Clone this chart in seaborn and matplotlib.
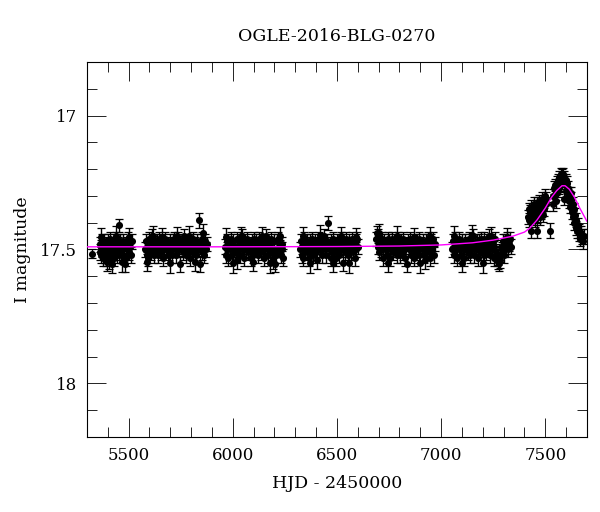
"""OGLE-2016-BLG-0270 light curve with the point-lens model overlaid."""

import matplotlib
matplotlib.use("Agg")
import matplotlib.pyplot as plt          # noqa: E402
import pandas as pd                      # noqa: E402
import seaborn as sns                    # noqa: E402
from matplotlib.ticker import MultipleLocator  # noqa: E402

# (HJD - 2450000, I mag, error), season by season
season0 = [(5322, 17.515, .016)]

season1 = [
    (5362, 17.48, .028), (5364, 17.51, .030), (5366, 17.49, .027), (5369, 17.52, .031), (5371, 17.47, .026),
    (5373, 17.50, .029), (5376, 17.50, .028), (5378, 17.53, .033), (5380, 17.49, .027), (5383, 17.47, .026),
    (5385, 17.52, .030), (5388, 17.50, .028), (5390, 17.48, .027), (5392, 17.53, .032), (5395, 17.49, .028),
    (5397, 17.51, .029), (5400, 17.47, .026), (5402, 17.50, .029), (5405, 17.49, .028), (5407, 17.54, .034),
    (5410, 17.50, .028), (5412, 17.46, .026), (5415, 17.52, .030), (5417, 17.49, .028), (5420, 17.48, .027),
    (5423, 17.51, .029), (5425, 17.50, .028), (5428, 17.47, .026), (5431, 17.53, .032), (5433, 17.49, .027),
    (5436, 17.50, .029), (5439, 17.46, .025), (5441, 17.50, .028), (5444, 17.52, .031), (5447, 17.48, .027),
    (5450, 17.49, .028), (5453, 17.51, .029), (5456, 17.41, .025), (5459, 17.47, .027), (5462, 17.50, .028),
    (5465, 17.52, .030), (5468, 17.49, .027), (5471, 17.47, .026), (5474, 17.52, .030), (5477, 17.49, .028),
    (5481, 17.555, .030), (5485, 17.48, .027), (5489, 17.53, .032), (5493, 17.50, .028), (5497, 17.46, .026),
    (5502, 17.51, .029), (5507, 17.49, .027), (5511, 17.52, .031), (5515, 17.47, .027),
    (5368, 17.455, .035), (5394, 17.545, .036), (5419, 17.555, .034), (5438, 17.45, .036),
    (5466, 17.545, .038), (5500, 17.455, .034),
]

season2 = [
    (5578, 17.50, .028), (5582, 17.47, .027), (5586, 17.52, .030), (5590, 17.49, .027), (5594, 17.53, .032),
    (5597, 17.46, .026), (5601, 17.50, .028), (5605, 17.48, .027), (5609, 17.51, .029), (5612, 17.45, .025),
    (5616, 17.49, .028), (5620, 17.52, .031), (5624, 17.47, .027), (5628, 17.50, .029), (5631, 17.49, .027),
    (5635, 17.47, .026), (5639, 17.52, .030), (5643, 17.50, .028), (5647, 17.46, .026), (5651, 17.48, .027),
    (5655, 17.51, .029), (5659, 17.49, .028), (5663, 17.53, .033), (5667, 17.47, .027), (5671, 17.50, .028),
    (5675, 17.46, .026), (5679, 17.50, .029), (5683, 17.49, .027), (5687, 17.52, .030), (5691, 17.48, .027),
    (5695, 17.51, .029), (5699, 17.47, .026), (5703, 17.49, .028), (5707, 17.52, .031), (5711, 17.47, .027),
    (5715, 17.50, .028), (5719, 17.46, .025), (5723, 17.49, .027), (5727, 17.52, .030), (5731, 17.48, .027),
    (5735, 17.50, .029), (5739, 17.46, .026), (5743, 17.50, .028), (5747, 17.555, .030), (5751, 17.49, .027),
    (5755, 17.47, .027), (5759, 17.51, .029), (5763, 17.49, .028), (5767, 17.45, .025), (5771, 17.48, .027),
    (5775, 17.52, .030), (5779, 17.50, .028), (5783, 17.47, .026), (5787, 17.50, .029), (5791, 17.49, .027),
    (5795, 17.53, .033), (5799, 17.47, .027), (5803, 17.50, .028), (5807, 17.46, .026), (5811, 17.51, .029),
    (5815, 17.49, .028), (5819, 17.48, .027), (5823, 17.52, .031), (5827, 17.47, .026), (5831, 17.50, .028),
    (5835, 17.49, .027), (5838, 17.39, .028), (5842, 17.555, .030), (5846, 17.47, .027), (5850, 17.51, .030),
    (5854, 17.46, .026), (5858, 17.49, .028), (5862, 17.52, .030), (5866, 17.47, .026), (5870, 17.50, .029),
    (5874, 17.48, .027),
    (5589, 17.545, .035), (5618, 17.45, .036), (5662, 17.455, .035), (5700, 17.55, .036),
    (5730, 17.45, .034), (5790, 17.45, .036), (5818, 17.545, .035), (5856, 17.44, .034),
]

season3 = [
    (5962, 17.49, .028), (5966, 17.52, .030), (5970, 17.47, .026), (5974, 17.50, .028), (5978, 17.53, .033),
    (5982, 17.48, .027), (5986, 17.50, .029), (5990, 17.46, .026), (5994, 17.49, .028), (5998, 17.52, .031),
    (6002, 17.47, .027), (6006, 17.50, .028), (6010, 17.49, .027), (6014, 17.51, .029), (6018, 17.46, .026),
    (6022, 17.54, .034), (6026, 17.49, .028), (6030, 17.48, .027), (6034, 17.52, .030), (6038, 17.47, .026),
    (6042, 17.50, .028), (6046, 17.45, .025), (6050, 17.49, .027), (6054, 17.53, .032), (6058, 17.47, .027),
    (6062, 17.50, .029), (6066, 17.49, .028), (6070, 17.46, .026), (6074, 17.51, .029), (6078, 17.48, .027),
    (6082, 17.50, .028), (6086, 17.53, .033), (6090, 17.47, .026), (6094, 17.49, .027), (6098, 17.52, .030),
    (6102, 17.46, .025), (6106, 17.50, .028), (6110, 17.47, .027), (6114, 17.50, .029), (6118, 17.49, .027),
    (6122, 17.52, .031), (6126, 17.46, .026), (6130, 17.49, .028), (6134, 17.51, .029), (6138, 17.48, .027),
    (6142, 17.47, .026), (6146, 17.50, .028), (6150, 17.53, .032), (6154, 17.49, .027), (6158, 17.45, .025),
    (6162, 17.50, .029), (6166, 17.47, .027), (6170, 17.52, .030), (6174, 17.49, .028), (6178, 17.48, .027),
    (6182, 17.46, .026), (6186, 17.51, .029), (6190, 17.50, .028), (6194, 17.54, .034), (6198, 17.47, .026),
    (6202, 17.555, .030), (6206, 17.52, .030), (6210, 17.47, .027), (6214, 17.50, .028), (6218, 17.46, .026),
    (6222, 17.50, .029), (6226, 17.49, .027), (6230, 17.52, .031), (6234, 17.48, .027), (6238, 17.50, .028),
    (6241, 17.53, .032),
    (5968, 17.455, .035), (6000, 17.55, .036), (6040, 17.45, .035), (6096, 17.545, .036),
    (6140, 17.45, .034), (6180, 17.55, .036), (6225, 17.45, .035),
]

season4 = [
    (6322, 17.50, .029), (6326, 17.47, .027), (6330, 17.52, .030), (6334, 17.49, .027), (6338, 17.53, .032),
    (6342, 17.46, .026), (6346, 17.50, .028), (6350, 17.48, .027), (6354, 17.51, .029), (6358, 17.47, .026),
    (6362, 17.49, .028), (6366, 17.53, .033), (6370, 17.47, .027), (6374, 17.50, .029), (6378, 17.46, .025),
    (6382, 17.49, .027), (6386, 17.52, .030), (6390, 17.50, .028), (6394, 17.47, .026), (6398, 17.51, .029),
    (6402, 17.48, .027), (6406, 17.54, .034), (6410, 17.49, .028), (6414, 17.46, .026), (6418, 17.50, .029),
    (6422, 17.49, .027), (6426, 17.52, .031), (6430, 17.47, .027), (6434, 17.50, .028), (6438, 17.45, .025),
    (6442, 17.49, .028), (6446, 17.52, .030), (6450, 17.48, .027), (6454, 17.47, .026), (6457, 17.40, .026),
    (6461, 17.50, .029), (6465, 17.49, .027), (6469, 17.53, .032), (6473, 17.47, .027), (6477, 17.50, .028),
    (6481, 17.46, .026), (6485, 17.51, .029), (6489, 17.49, .028), (6493, 17.48, .027), (6497, 17.53, .033),
    (6501, 17.47, .026), (6505, 17.50, .028), (6509, 17.52, .030), (6513, 17.49, .027), (6517, 17.46, .026),
    (6521, 17.50, .029), (6525, 17.47, .027), (6529, 17.55, .032), (6533, 17.49, .028), (6537, 17.51, .029),
    (6541, 17.46, .025), (6545, 17.48, .027), (6549, 17.50, .028), (6553, 17.52, .031), (6557, 17.47, .026),
    (6561, 17.49, .028), (6565, 17.51, .029), (6569, 17.48, .027), (6573, 17.46, .026), (6577, 17.50, .029),
    (6581, 17.49, .027), (6585, 17.53, .032), (6589, 17.47, .027), (6593, 17.50, .028), (6597, 17.46, .026),
    (6601, 17.49, .028),
    (6336, 17.45, .035), (6372, 17.55, .036), (6420, 17.445, .036), (6480, 17.55, .035),
    (6520, 17.45, .035), (6560, 17.55, .036), (6590, 17.455, .034),
]

season5 = [
    (6687, 17.46, .026), (6691, 17.44, .026), (6695, 17.49, .028), (6699, 17.45, .026), (6703, 17.51, .029),
    (6707, 17.47, .027), (6711, 17.50, .028), (6715, 17.46, .026), (6719, 17.53, .032), (6723, 17.49, .027),
    (6727, 17.47, .026), (6731, 17.50, .029), (6735, 17.48, .027), (6739, 17.52, .030), (6743, 17.46, .025),
    (6747, 17.50, .028), (6751, 17.47, .027), (6755, 17.53, .033), (6759, 17.49, .028), (6763, 17.46, .026),
    (6767, 17.51, .029), (6771, 17.49, .027), (6775, 17.47, .026), (6779, 17.50, .029), (6783, 17.48, .027),
    (6787, 17.52, .031), (6791, 17.50, .028), (6795, 17.46, .026), (6799, 17.49, .028), (6803, 17.52, .030),
    (6807, 17.47, .027), (6811, 17.50, .028), (6815, 17.46, .026), (6819, 17.51, .029), (6823, 17.49, .027),
    (6827, 17.53, .032), (6831, 17.48, .027), (6836, 17.555, .030), (6840, 17.47, .026), (6844, 17.50, .029),
    (6848, 17.49, .028), (6852, 17.46, .025), (6856, 17.52, .030), (6860, 17.48, .027), (6864, 17.50, .028),
    (6868, 17.47, .026), (6872, 17.53, .033), (6876, 17.49, .027), (6880, 17.51, .029), (6884, 17.47, .027),
    (6888, 17.50, .028), (6892, 17.46, .026), (6896, 17.52, .031), (6900, 17.49, .028), (6904, 17.48, .027),
    (6908, 17.50, .029), (6912, 17.47, .026), (6916, 17.52, .030), (6920, 17.49, .027), (6924, 17.54, .034),
    (6928, 17.47, .027), (6932, 17.50, .028), (6936, 17.46, .026), (6940, 17.51, .029), (6944, 17.49, .027),
    (6948, 17.53, .032), (6952, 17.47, .027), (6956, 17.50, .028), (6960, 17.46, .026), (6964, 17.52, .030),
    (6969, 17.48, .027),
    (6700, 17.44, .035), (6745, 17.55, .035), (6790, 17.45, .036), (6870, 17.455, .035),
    (6900, 17.55, .036), (6945, 17.45, .035),
]

season6 = [
    (7052, 17.50, .028), (7056, 17.47, .027), (7060, 17.52, .030), (7064, 17.49, .027), (7068, 17.46, .026),
    (7072, 17.50, .029), (7076, 17.53, .032), (7080, 17.48, .027), (7084, 17.50, .028), (7088, 17.46, .025),
    (7092, 17.49, .028), (7096, 17.52, .030), (7100, 17.47, .027), (7104, 17.50, .029), (7108, 17.49, .027),
    (7112, 17.53, .033), (7116, 17.47, .026), (7120, 17.50, .028), (7124, 17.48, .027), (7128, 17.51, .029),
    (7132, 17.46, .026), (7136, 17.49, .028), (7140, 17.52, .031), (7144, 17.47, .027), (7148, 17.50, .028),
    (7152, 17.45, .025), (7156, 17.49, .027), (7160, 17.52, .030), (7164, 17.48, .027), (7168, 17.50, .029),
    (7172, 17.47, .026), (7176, 17.53, .032), (7180, 17.49, .028), (7184, 17.47, .027), (7188, 17.51, .029),
    (7192, 17.46, .026), (7196, 17.50, .028), (7200, 17.48, .027), (7204, 17.52, .031), (7208, 17.46, .026),
    (7212, 17.49, .028), (7216, 17.51, .029), (7220, 17.47, .027), (7224, 17.50, .028), (7228, 17.45, .025),
    (7232, 17.49, .027), (7236, 17.52, .030), (7240, 17.47, .026), (7244, 17.50, .029), (7248, 17.48, .027),
    (7252, 17.53, .032), (7256, 17.49, .028), (7260, 17.46, .026), (7264, 17.51, .029), (7268, 17.53, .030),
    (7272, 17.545, .028), (7275, 17.53, .028), (7278, 17.55, .030), (7281, 17.54, .029), (7284, 17.52, .028),
    (7288, 17.49, .027), (7292, 17.50, .029), (7296, 17.47, .026), (7300, 17.50, .028), (7304, 17.52, .030),
    (7308, 17.47, .027), (7312, 17.49, .028), (7316, 17.46, .026), (7320, 17.50, .029), (7325, 17.48, .027),
    (7330, 17.46, .026), (7336, 17.49, .028),
    (7060, 17.45, .036), (7100, 17.55, .035), (7150, 17.445, .035), (7200, 17.55, .036),
    (7240, 17.45, .035), (7318, 17.455, .036),
]

season7 = [
    (7417, 17.38, .026), (7420, 17.35, .025), (7423, 17.39, .027), (7426, 17.36, .026), (7429, 17.34, .025),
    (7432, 17.43, .028), (7435, 17.37, .026), (7438, 17.35, .025), (7441, 17.38, .027), (7444, 17.33, .025),
    (7447, 17.36, .026), (7450, 17.39, .027), (7453, 17.34, .025), (7456, 17.37, .026), (7459, 17.33, .025),
    (7462, 17.43, .028), (7465, 17.35, .026), (7468, 17.32, .024), (7471, 17.35, .025), (7474, 17.38, .027),
    (7477, 17.33, .025), (7480, 17.36, .026), (7483, 17.31, .024), (7486, 17.34, .025), (7489, 17.37, .026),
    (7492, 17.32, .025), (7495, 17.35, .025), (7498, 17.30, .024), (7501, 17.33, .025), (7504, 17.31, .024),
    (7522, 17.43, .028),
    (7535, 17.30, .024), (7538, 17.33, .025), (7541, 17.27, .024), (7544, 17.30, .024), (7547, 17.26, .023),
    (7550, 17.29, .024), (7553, 17.32, .025), (7556, 17.25, .023), (7559, 17.28, .024), (7562, 17.24, .023),
    (7565, 17.27, .024), (7568, 17.23, .023), (7571, 17.26, .023), (7574, 17.22, .023), (7577, 17.25, .023),
    (7580, 17.22, .022), (7583, 17.24, .023), (7586, 17.22, .023), (7589, 17.31, .025), (7592, 17.23, .023),
    (7595, 17.26, .023), (7598, 17.24, .023), (7601, 17.28, .024), (7604, 17.25, .023), (7607, 17.30, .024),
    (7610, 17.27, .024), (7613, 17.32, .025), (7616, 17.29, .024), (7619, 17.34, .025), (7622, 17.31, .025),
    (7625, 17.29, .024), (7628, 17.36, .026), (7631, 17.33, .025), (7634, 17.38, .026), (7637, 17.35, .025),
    (7640, 17.40, .027), (7643, 17.37, .026), (7646, 17.42, .027), (7649, 17.39, .027), (7652, 17.43, .028),
    (7656, 17.41, .027), (7660, 17.44, .028), (7664, 17.43, .027), (7668, 17.46, .028), (7672, 17.44, .028),
    (7676, 17.45, .028), (7680, 17.47, .029), (7684, 17.45, .028),
]

# model curve, sampled by eye along the magenta line
model_hjd = [5300, 6000, 6500, 6800, 7000, 7150, 7250, 7345, 7400, 7426, 7460, 7500, 7530,
             7555, 7580, 7595, 7615, 7640, 7665, 7700]
model_mag = [17.490, 17.490, 17.489, 17.487, 17.483, 17.475, 17.465, 17.450, 17.435, 17.420,
             17.390, 17.345, 17.305, 17.280, 17.262, 17.262, 17.275, 17.305, 17.345, 17.395]

TITLE = "OGLE-2016-BLG-0270"


def main() -> None:
    seasons = [season0, season1, season2, season3, season4, season5, season6, season7]
    df = pd.DataFrame([row for s in seasons for row in s], columns=["hjd", "mag", "err"])

    sns.set_style("ticks")
    plt.rcParams["font.family"] = ["DejaVu Serif"]
    for key in ("text.color", "axes.labelcolor", "xtick.color", "ytick.color"):
        plt.rcParams[key] = "black"

    fig = plt.figure(figsize=(6.0, 5.12), dpi=100)
    ax = fig.add_axes([0.145, 0.1465, 0.8333, 0.7324])

    ax.errorbar(df["hjd"], df["mag"], yerr=df["err"], fmt="none", ecolor="black",
                elinewidth=1.0, capsize=2.6, capthick=0.9, zorder=2)
    sns.scatterplot(data=df, x="hjd", y="mag", color="black", s=26, linewidth=0,
                    ax=ax, zorder=3, legend=False)
    sns.lineplot(x=model_hjd, y=model_mag, color="#ff00ff", lw=1.0, sort=False,
                 estimator=None, ax=ax, zorder=4)

    ax.set_xlim(5300, 7700)
    ax.set_ylim(18.2, 16.8)
    ax.xaxis.set_major_locator(MultipleLocator(500))
    ax.xaxis.set_minor_locator(MultipleLocator(100))
    ax.yaxis.set_major_locator(MultipleLocator(0.5))
    ax.yaxis.set_minor_locator(MultipleLocator(0.1))
    ax.yaxis.set_major_formatter(plt.FuncFormatter(lambda v, _: f"{v:g}"))

    ax.tick_params(which="both", direction="in", top=True, right=True,
                   labelsize=12, color="black", width=0.6)
    ax.tick_params(which="major", length=14, pad=7)
    ax.tick_params(which="minor", length=7)
    for sp in ax.spines.values():
        sp.set_linewidth(0.8)
        sp.set_color("black")

    ax.set_xlabel("HJD - 2450000", fontsize=12.5, labelpad=8)
    ax.set_ylabel("I magnitude", fontsize=12.5, labelpad=7)
    ax.set_title(TITLE, fontsize=12.5, pad=15)

    fig.savefig("out.png", dpi=100)
    plt.close(fig)


if __name__ == "__main__":
    main()
